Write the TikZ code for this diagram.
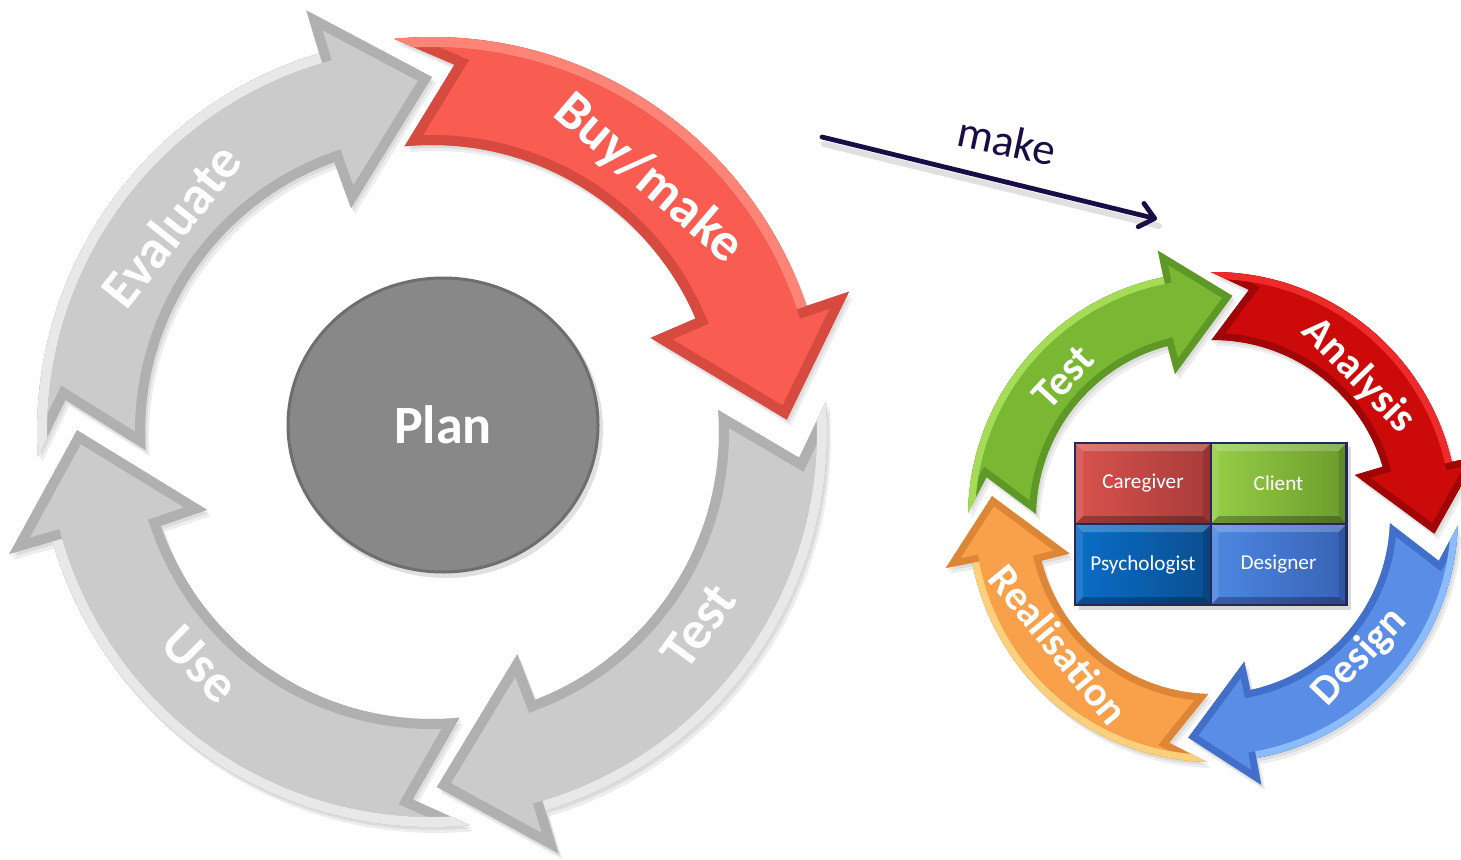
\documentclass[tikz,border=0pt]{standalone}
\usepackage{fontspec}
\setmainfont{Carlito}
\usetikzlibrary{arrows.meta,shapes.geometric}
\definecolor{gface}{HTML}{CBCBCB}
\definecolor{gdark}{HTML}{B0B0B0}
\definecolor{glight}{HTML}{E8E8E8}
\definecolor{rface}{HTML}{F95C50}
\definecolor{rdark}{HTML}{D74A40}
\definecolor{rlight}{HTML}{FF8478}
\definecolor{grface}{HTML}{7AB834}
\definecolor{grdark}{HTML}{5E9826}
\definecolor{grlight}{HTML}{A4DC58}
\definecolor{rrface}{HTML}{CC0A0A}
\definecolor{rrdark}{HTML}{A00606}
\definecolor{rrlight}{HTML}{EE2A2A}
\definecolor{bface}{HTML}{5A8EE6}
\definecolor{bdark}{HTML}{426FCA}
\definecolor{blight}{HTML}{8ABCFF}
\definecolor{oface}{HTML}{F8A04A}
\definecolor{odark}{HTML}{DE8638}
\definecolor{olight}{HTML}{FFD07C}
\definecolor{planc}{HTML}{888888}
\definecolor{planedge}{HTML}{6E6E6E}
\definecolor{makec}{HTML}{1A0C45}
\definecolor{navy}{HTML}{24285A}
\definecolor{careL}{HTML}{D8524D}
\definecolor{careR}{HTML}{A83B3A}
\definecolor{clientL}{HTML}{96CE46}
\definecolor{clientR}{HTML}{6C9C2C}
\definecolor{psyL}{HTML}{0A6EC8}
\definecolor{psyR}{HTML}{0B4E90}
\definecolor{desL}{HTML}{4E88E2}
\definecolor{desR}{HTML}{3762B4}

\newcommand\arrowpath{(\aT:\rO) arc[start angle=\aT, end angle=\aHO, radius=\rO] -- (\aHO:\rBO) -- (\aP:\rT) -- (\aHI:\rBI) -- (\aHI:\rI) arc[start angle=\aHI, end angle=\aT, radius=\rI] -- (\aN:\rN) -- cycle}

\newcommand\cycarrow[9]{%
  \def\aT{#1}\def\aN{#2}\def\aHO{#3}\def\aHI{#4}\def\aP{#5}%
  \fill[black,opacity=0.07,shift={(2,-3)}] \arrowpath;
  \fill[black,opacity=0.07,shift={(4,-6)}] \arrowpath;
  \fill[#6] \arrowpath;
  \begin{scope}
    \clip \arrowpath;
    \draw[#7,line width=#9,line join=miter] \arrowpath;
    \draw[#8,line width=#9] (\aT:\rO) arc[start angle=\aT, end angle=\aHO, radius=\rO];
  \end{scope}}

\newcommand\cyclabel[6]{%
  \node[#6, rotate=#4] (#1) at (#2:#3) {#5};}

\newcommand\cellbevel[1]{%
  \fill[white,opacity=0.22] (#1.north west) -- (#1.north east) -- ([shift={(-8,-8)}]#1.north east) -- ([shift={(8,-8)}]#1.north west) -- cycle;
  \fill[black,opacity=0.28] (#1.south west) -- (#1.south east) -- ([shift={(-8,8)}]#1.south east) -- ([shift={(8,8)}]#1.south west) -- cycle;
  \fill[black,opacity=0.12] (#1.north east) -- (#1.south east) -- ([shift={(-8,8)}]#1.south east) -- ([shift={(-8,-8)}]#1.north east) -- cycle;
  \fill[white,opacity=0.10] (#1.north west) -- (#1.south west) -- ([shift={(8,8)}]#1.south west) -- ([shift={(8,-8)}]#1.north west) -- cycle;
  \draw[navy,line width=1pt] (#1.north west) rectangle (#1.south east);}

\tikzset{
  lblL/.style={text=white, font=\bfseries\fontsize{27pt}{27pt}\selectfont, inner sep=0pt},
  lblR/.style={text=white, font=\bfseries\fontsize{21pt}{21pt}\selectfont, inner sep=0pt},
  cell/.style={rectangle, minimum width=68pt, minimum height=40.5pt, inner sep=0pt, outer sep=0pt,
    text=white, font=\fontsize{10.6pt}{12pt}\selectfont},
}

\begin{document}
\begin{tikzpicture}[x=0.5pt,y=0.5pt]
\useasboundingbox (0,0) rectangle (1461,859);
\clip (0,0) rectangle (1461,859);

% ---------------- left cycle ----------------
\begin{scope}[shift={(432,427)}]
  \def\rO{395}\def\rI{287}\def\rBO{440}\def\rBI{238}\def\rT{355}\def\rN{368}
  \cycarrow{183.6}{175}{106.6}{109.9}{90}{gface}{gdark}{glight}{10pt}
  \cycarrow{95.5}{86.5}{18.6}{23.3}{2}{rface}{rdark}{rlight}{10pt}
  \cycarrow{4.4}{-4}{-73.3}{-69}{-89.2}{gface}{gdark}{glight}{10pt}
  \cycarrow{275.5}{267}{196.1}{199.1}{179.7}{gface}{gdark}{glight}{10pt}
  \cyclabel{lEval}{141.6}{333}{51.6}{Evaluate}{lblL}
  \cyclabel{lBuy}{49.5}{333}{-40.5}{Buy/make}{lblL}
  \cyclabel{lTest}{-36.1}{330}{53.9}{Test}{lblL}
  \cyclabel{lUse}{225.1}{328}{-44.9}{Use}{lblL}
\end{scope}

% Plan circle
\fill[black,opacity=0.12] (446,430) ellipse [x radius=157, y radius=149];
\node[ellipse, fill=planc, draw=planedge, line width=1.5pt, minimum width=155pt, minimum height=147pt,
  inner sep=0pt, text=white, font=\bfseries\fontsize{27pt}{27pt}\selectfont] (plan) at (443,434) {Plan};

% ---------------- make arrow ----------------
\coordinate (mkS) at (822,722);
\coordinate (mkE) at (1157,640);
\draw[black,opacity=0.12,line width=3pt,line cap=round] ([shift={(2,-7)}]mkS) -- ([shift={(2,-7)}]mkE);
\draw[makec,line width=2.4pt,line cap=round,
  -{Straight Barb[length=7pt,width=12pt,line cap=round,line join=round]}] (mkS) -- (mkE);
\node[text=makec, font=\fontsize{22.5pt}{24pt}\selectfont, rotate=-12, inner sep=0pt] (mkT) at (1007,718) {make};

% ---------------- right cycle ----------------
\begin{scope}[shift={(1213,342)}]
  \def\rO{245}\def\rI{177}\def\rBO{272}\def\rBI{148}\def\rT{222}\def\rN{230}
  \cycarrow{179}{170}{101.7}{104.9}{85}{grface}{grdark}{grlight}{7pt}
  \cycarrow{90.5}{81}{13}{16.5}{-4.3}{rrface}{rrdark}{rrlight}{7pt}
  \cycarrow{-2}{-11}{-79.8}{-77.8}{-96.4}{bface}{bdark}{blight}{7pt}
  \cycarrow{268.5}{259}{190.8}{194.3}{174.6}{oface}{odark}{olight}{7pt}
  \cyclabel{rTest}{137}{205}{47}{Test}{lblR}
  \cyclabel{rAna}{44.2}{203}{-45.8}{Analysis}{lblR}
  \cyclabel{rDes}{-43.6}{203}{46.4}{Design}{lblR}
  \cyclabel{rRea}{219.6}{200}{-50.4}{Realisation}{lblR}
\end{scope}

% ---------------- role boxes ----------------
\fill[black,opacity=0.15] (1079,249) rectangle (1351,412);
\node[cell, left color=careL, right color=careR] (care) at (1143,375.5) {Caregiver};
\node[cell, left color=clientL, right color=clientR] (client) at (1278.5,375.5) {Client};
\node[cell, left color=psyL, right color=psyR] (psy) at (1143,294.5) {Psychologist};
\node[cell, left color=desL, right color=desR] (des) at (1278.5,294.5) {Designer};
\cellbevel{care}
\cellbevel{client}
\cellbevel{psy}
\cellbevel{des}
\draw[navy,line width=1.2pt] (care.north west) rectangle (des.south east);
\end{tikzpicture}
\end{document}
